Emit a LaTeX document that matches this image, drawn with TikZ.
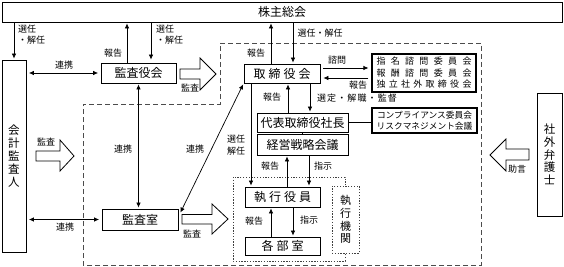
\documentclass[tikz,border=0pt]{standalone}
\usepackage{fontspec}
\setmainfont{Noto Sans CJK JP}
\usetikzlibrary{arrows.meta,calc}
\begin{document}
\begin{tikzpicture}[x=1pt,y=-1pt,
  box/.style={draw, line width=0.8pt, inner sep=0pt, font=\fontsize{12}{14}\selectfont},
  vbox/.style={box, align=center},
  cbox/.style={draw, line width=1.1pt, inner sep=0pt, align=center},
  lbl/.style={inner sep=0pt, font=\fontsize{9}{11}\selectfont},
  arr/.style={-{Latex[length=5pt,width=4.5pt]}, line width=0.7pt, shorten >=1pt},
  darr/.style={{Latex[length=5pt,width=4.5pt]}-{Latex[length=5pt,width=4.5pt]}, line width=0.7pt, shorten >=2.5pt, shorten <=2.5pt},
  hollow/.style={draw, line width=0.8pt, fill=white, line join=miter},
  dashreg/.style={draw, line width=0.8pt, dash pattern=on 5pt off 3pt, black!70},
  dotreg/.style={draw, line width=1pt, dash pattern=on 1.3pt off 1.5pt, black!75}
]
\useasboundingbox (0,0) rectangle (564,267);

% regions
\draw[dashreg] (220,43) -- (481,43) -- (481,265) -- (83,265) -- (83,104) -- (220,104) -- cycle;
\draw[dotreg] (233,177) rectangle (345,261);

% nodes
\node[box, minimum width=560pt, minimum height=20pt] (sh) at (282,12) {株主総会};
\node[vbox, minimum width=24pt, minimum height=192pt, font=\fontsize{11.5}{13}\selectfont] (kaikei) at (14,156) {会\\計\\監\\査\\人};
\node[box, minimum width=75pt, minimum height=20pt] (kansayaku) at (138.5,73) {監査役会};
\node[box, minimum width=76pt, minimum height=19pt] (torishimari) at (282,73.5) {取\hspace{3pt}締\hspace{3pt}役\hspace{3pt}会};
\node[cbox, minimum width=104pt, minimum height=38pt, font=\fontsize{9}{11.5}\selectfont] (iinkai) at (424,73)
  {\makebox[95pt][s]{指\hfil 名\hfil 諮\hfil 問\hfil 委\hfil 員\hfil 会}\\
   \makebox[95pt][s]{報\hfil 酬\hfil 諮\hfil 問\hfil 委\hfil 員\hfil 会}\\
   \makebox[95pt][s]{独\hfil 立\hfil 社\hfil 外\hfil 取\hfil 締\hfil 役\hfil 会}};
\node[box, minimum width=91pt, minimum height=19pt] (daihyo) at (302.5,122.5) {代表取締役社長};
\node[cbox, minimum width=105pt, minimum height=25pt, font=\fontsize{8.7}{11}\selectfont] (compl) at (424.5,120.5)
  {コンプライアンス委員会\\リスクマネジメント会議};
\node[box, minimum width=91pt, minimum height=21pt] (keiei) at (302.5,144.5) {経営戦略会議};
\node[box, minimum width=75pt, minimum height=20pt] (shikko) at (282.5,197) {執\hspace{3pt}行\hspace{3pt}役\hspace{3pt}員};
\node[box, minimum width=75pt, minimum height=18pt] (kakubu) at (282.5,246) {各\hspace{3pt}部\hspace{3pt}室};
\node[box, minimum width=76pt, minimum height=21pt] (kansashitsu) at (140,219.5) {監査室};
\node[vbox, minimum width=25pt, minimum height=123pt, font=\fontsize{11.5}{12.7}\selectfont] (bengoshi) at (549.5,154.5) {社\\外\\弁\\護\\士};
\node[draw, line width=1pt, dash pattern=on 1.3pt off 1.5pt, black!75, fill=white, inner sep=0pt, align=center,
  minimum width=27pt, minimum height=67pt, font=\fontsize{11}{12.7}\selectfont, text=black] (kikan) at (345.5,219.5) {執\\行\\機\\関};

% x / y helper coordinates
\coordinate (c127) at (127,0);
\coordinate (c151) at (151,0);
\coordinate (c271) at (271,0);
\coordinate (c293) at (293,0);
\coordinate (c288) at (288,0);
\coordinate (c310) at (310,0);
\coordinate (c251) at (251,0);
\coordinate (c287) at (287,0);
\coordinate (c309) at (309,0);
\coordinate (c68) at (0,68);
\coordinate (c78) at (0,78);

% connectors
\draw[arr] (sh.south -| kaikei.north) -- (kaikei.north);
\draw[arr] (kansayaku.north -| c127) -- (sh.south -| c127);
\draw[arr, shorten >=3pt] (sh.south -| c151) -- (kansayaku.north -| c151);
\draw[arr] (torishimari.north -| c271) -- (sh.south -| c271);
\draw[arr] (sh.south -| c293) -- (torishimari.north -| c293);
\draw[arr, shorten <=3pt, shorten >=3pt] (torishimari.east |- c68) -- (iinkai.west |- c68);
\draw[arr, shorten <=3pt, shorten >=3pt] (iinkai.west |- c78) -- (torishimari.east |- c78);
\draw[arr] (daihyo.north -| c288) -- (torishimari.south -| c288);
\draw[arr] (torishimari.south -| c310) -- (daihyo.north -| c310);
\draw[line width=0.7pt] (daihyo.east) -- (daihyo.east -| compl.west);
\draw[line width=0.7pt] (daihyo.south) -- (keiei.north);
\draw[arr] (torishimari.south -| c251) -- (shikko.north -| c251);
\draw[arr] (shikko.north -| c287) -- (keiei.south -| c287);
\draw[arr] (keiei.south -| c309) -- (shikko.north -| c309);
\draw[arr] (kakubu.north -| c271) -- (shikko.south -| c271);
\draw[arr] (shikko.south -| c293) -- (kakubu.north -| c293);
\draw[darr, shorten <=1pt, shorten >=1pt] (kansayaku.south) -- (kansashitsu.north -| kansayaku.south);
\draw[darr, shorten <=0pt, shorten >=1pt] ($(kansashitsu.north east)+(2,4)$) -- (torishimari.south west);
\draw[darr] (kaikei.east |- kansayaku.west) -- (kansayaku.west);
\draw[darr] (kaikei.east |- kansashitsu.west) -- (kansashitsu.west);

% hollow arrows
\draw[hollow] (180,69) -- (200,69) -- (200,58) -- (216,74) -- (200,90) -- (200,79) -- (180,79) -- cycle;
\draw[hollow] (182,214.5) -- (212,214.5) -- (212,204) -- (228,219) -- (212,234) -- (212,224) -- (182,224) -- cycle;
\draw[hollow] (36,151) -- (60,151) -- (60,140) -- (74,156) -- (60,171) -- (60,161) -- (36,161) -- cycle;
\draw[hollow] (529,149) -- (506,149) -- (506,139) -- (490,155) -- (506,171) -- (506,160) -- (529,160) -- cycle;

% labels
\node[lbl, align=left, anchor=west] (l1) at (18,35) {選任\\・解任};
\node[lbl, align=left, anchor=west] (l2) at (156,35) {選任\\・解任};
\node[lbl] (l3) at (64,65) {連携};
\node[lbl] (l4) at (113,53) {報告};
\node[lbl] (l5) at (190,88) {監査};
\node[lbl] (l6) at (256,53) {報告};
\node[lbl] (l7) at (320,33) {選任・解任};
\node[lbl] (l8) at (337,60) {諮問};
\node[lbl] (l9) at (358,85) {報告};
\node[lbl] (l10) at (357,98) {\makebox[80pt][s]{選\hfil 定\hfil ・\hfil 解\hfil 職\hfil ・\hfil 監\hfil 督}};
\node[lbl] (l11) at (272,97) {報告};
\node[lbl, align=center, font=\fontsize{9}{12}\selectfont] (l12) at (236,145) {選任\\解任};
\node[lbl] (l13) at (270,166) {報告};
\node[lbl] (l14) at (323,166) {指示};
\node[lbl] (l15) at (254,221) {報告};
\node[lbl] (l16) at (309,220) {指示};
\node[lbl] (l17) at (123,149) {連携};
\node[lbl] (l18) at (195,149) {連携};
\node[lbl] (l19) at (192,234) {監査};
\node[lbl] (l20) at (65,227) {連携};
\node[lbl] (l21) at (46,142) {監査};
\node[lbl] (l22) at (517,169) {助言};
\end{tikzpicture}
\end{document}
